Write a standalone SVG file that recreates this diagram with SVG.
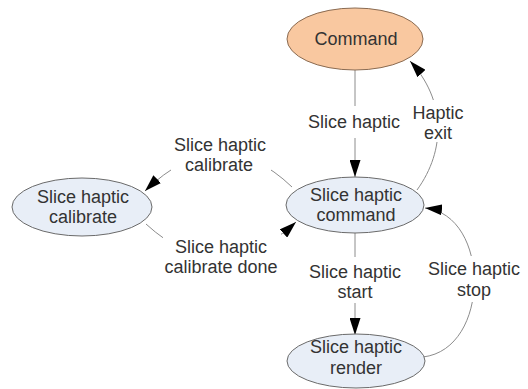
<svg xmlns="http://www.w3.org/2000/svg" width="528" height="389" viewBox="0 0 528 389">
  <style>
    .node { stroke: #6a6a6a; stroke-width: 1; }
    .cmd { fill: #f9c8a0; stroke: #8a6b52; }
    .state { fill: #e8eef7; }
    .edge { fill: none; stroke: #8c8c8c; stroke-width: 1; }
    text { font-family: "Liberation Sans", Arial, sans-serif; font-size: 18px; fill: #333333; text-anchor: middle; }
    .bg { fill: #ffffff; }
  </style>
  <defs>
    <marker id="arrow" viewBox="0 0 17 11" refX="17" refY="5.5" markerWidth="17" markerHeight="11" markerUnits="userSpaceOnUse" orient="auto">
      <path d="M0,0 L17,5.5 L0,11 Z" fill="#000"/>
    </marker>
  </defs>

  <rect width="528" height="389" fill="#ffffff"/>

  <g id="connectors">
    <path class="edge" d="M355,70 L355,177" marker-end="url(#arrow)"/>
    <path class="edge" d="M417,190 C446,150 446,100 410,61" marker-end="url(#arrow)"/>
    <path class="edge" d="M292,187 Q220,118 145,191" marker-end="url(#arrow)"/>
    <path class="edge" d="M146,224 Q220,292 296,222" marker-end="url(#arrow)"/>
    <path class="edge" d="M355,233 L355,335" marker-end="url(#arrow)"/>
    <path class="edge" d="M423,357 C491,349 491,215 425,208" marker-end="url(#arrow)"/>

    <g id="edge-labels">
      <rect class="bg" x="306" y="106" width="98" height="32"/>
      <text x="354" y="128">Slice haptic</text>

      <rect class="bg" x="410" y="100" width="56" height="42"/>
      <text x="438" y="119">Haptic</text>
      <text x="438" y="139">exit</text>

      <rect class="bg" x="171" y="131" width="100" height="44"/>
      <text x="220" y="151">Slice haptic</text>
      <text x="219" y="171">calibrate</text>

      <rect class="bg" x="163" y="233" width="118" height="44"/>
      <text x="221" y="253">Slice haptic</text>
      <text x="221" y="273">calibrate done</text>

      <rect class="bg" x="306" y="257" width="98" height="46"/>
      <text x="355" y="278">Slice haptic</text>
      <text x="355" y="298">start</text>

      <rect class="bg" x="426" y="256" width="96" height="46"/>
      <text x="474" y="275">Slice haptic</text>
      <text x="474" y="296">stop</text>
    </g>
  </g>

  <g id="command">
    <ellipse class="node cmd" cx="355" cy="39" rx="68" ry="31"/>
    <text x="356" y="45">Command</text>
  </g>

  <g id="slice-haptic-command">
    <ellipse class="node state" cx="355" cy="205" rx="69" ry="28"/>
    <text x="356" y="201">Slice haptic</text>
    <text x="356" y="221">command</text>
  </g>

  <g id="slice-haptic-calibrate">
    <ellipse class="node state" cx="82" cy="207" rx="70" ry="29"/>
    <text x="83" y="203">Slice haptic</text>
    <text x="83" y="223">calibrate</text>
  </g>

  <g id="slice-haptic-render">
    <ellipse class="node state" cx="356" cy="361" rx="69" ry="27"/>
    <text x="356" y="353">Slice haptic</text>
    <text x="356" y="374">render</text>
  </g>
</svg>
